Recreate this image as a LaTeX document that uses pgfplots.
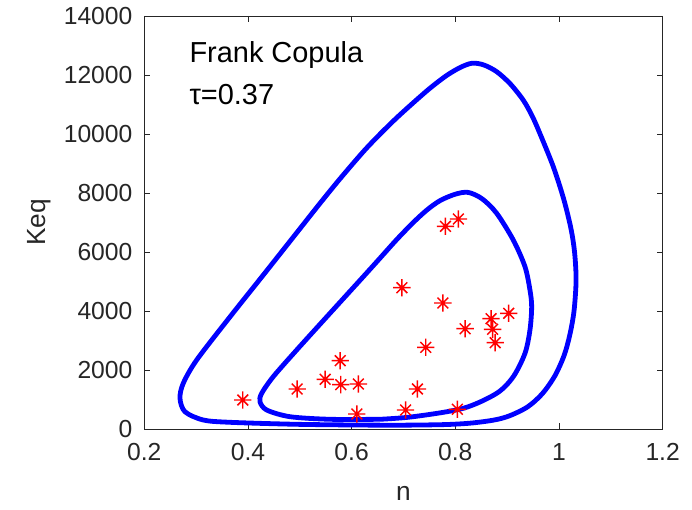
\documentclass[border=0pt]{standalone}
\usepackage{fontspec}
\setmainfont{Liberation Sans}
\usepackage{pgfplots}
\pgfplotsset{compat=1.18}
\definecolor{axgray}{RGB}{38,38,38}
\pgfdeclareplotmark{mstar}{%
  \pgfpathmoveto{\pgfqpoint{0pt}{\pgfplotmarksize}}%
  \pgfpathlineto{\pgfqpoint{0pt}{-\pgfplotmarksize}}%
  \pgfpathmoveto{\pgfqpoint{\pgfplotmarksize}{0pt}}%
  \pgfpathlineto{\pgfqpoint{-\pgfplotmarksize}{0pt}}%
  \pgfpathmoveto{\pgfqpoint{0.62\pgfplotmarksize}{0.62\pgfplotmarksize}}%
  \pgfpathlineto{\pgfqpoint{-0.62\pgfplotmarksize}{-0.62\pgfplotmarksize}}%
  \pgfpathmoveto{\pgfqpoint{0.62\pgfplotmarksize}{-0.62\pgfplotmarksize}}%
  \pgfpathlineto{\pgfqpoint{-0.62\pgfplotmarksize}{0.62\pgfplotmarksize}}%
  \pgfusepathqstroke}
\begin{document}
\begin{tikzpicture}
\path (-108.2pt,-60.75pt) rectangle (410.8pt,321.75pt);
\begin{axis}[
  scale only axis, width=388.8pt, height=309.75pt,
  at={(0pt,0pt)}, anchor=south west,
  xmin=0.2, xmax=1.2, ymin=0, ymax=14000,
  xtick={0.2,0.4,0.6,0.8,1,1.2},
  xticklabels={0.2,0.4,0.6,0.8,1,1.2},
  ytick={0,2000,4000,6000,8000,10000,12000,14000},
  yticklabels={0,2000,4000,6000,8000,10000,12000,14000},
  scaled y ticks=false,
  tick align=inside, major tick length=4.5pt,
  axis line style={axgray, line width=0.6pt},
  tick style={axgray, line width=0.6pt},
  ticklabel style={font=\fontsize{18.5}{22}\selectfont, text=axgray},
  xticklabel style={anchor=north, inner sep=0pt, yshift=-10.5pt},
  yticklabel style={anchor=east, inner sep=0pt, xshift=-8.7pt},
  xlabel={n}, ylabel={Keq},
  label style={font=\fontsize{19.7}{23}\selectfont, text=axgray},
  xlabel style={at={(axis description cs:0.5,-0.172)}, anchor=base, inner sep=0pt},
  ylabel style={at={(axis description cs:-0.1896,0.5)}, anchor=base, inner sep=0pt},
]
\addplot[blue, line width=3.6pt, smooth, tension=0.5, line join=round] coordinates {
(0.6225,133) (0.70,130) (0.78,150) (0.83,200) (0.875,305) (0.905,450) (0.940,756)
(0.968,1200) (0.992,1800) (1.010,2500) (1.021,3200) (1.029,4000) (1.033,5050)
(1.030,6000) (1.023,6800) (1.009,7800) (0.989,8892) (0.963,10024) (0.948,10620)
(0.931,11150) (0.906,11700) (0.880,12110) (0.855,12340) (0.8327,12400)
(0.810,12260) (0.783,11980) (0.751,11550) (0.719,11060) (0.687,10550)
(0.655,10000) (0.6225,9400) (0.5775,8480) (0.539,7650) (0.494,6650) (0.4296,5220)
(0.3653,3800) (0.3011,2339) (0.2752,1549) (0.2689,1041) (0.2785,586)
(0.3138,305) (0.3653,227) (0.4940,159) (0.6225,133)
};
\addplot[blue, line width=3.6pt, smooth, tension=0.5, line join=round] coordinates {
(0.6547,329) (0.7189,417) (0.8154,702) (0.8798,1210) (0.9118,1773) (0.9344,2566)
(0.9440,3356) (0.9473,4146) (0.9440,4712) (0.9344,5502) (0.9118,6407)
(0.8798,7312) (0.852,7800) (0.825,8020) (0.800,7960) (0.7704,7740) (0.745,7420)
(0.7189,7000) (0.6869,6420) (0.6547,5790) (0.6225,5163) (0.5582,3922)
(0.4940,2678) (0.4488,1773) (0.4265,1210) (0.4232,925) (0.4361,644)
(0.4811,417) (0.5582,329) (0.6547,329)
};
\addplot[only marks, red, mark=mstar, mark size=6.5pt, line width=1.1pt] coordinates {
(0.390,983) (0.495,1356) (0.549,1685) (0.578,2315) (0.579,1503) (0.613,1525)
(0.610,508) (0.697,4790) (0.704,644) (0.727,1356) (0.743,2769) (0.781,6871)
(0.806,7119) (0.776,4271) (0.819,3400) (0.804,667) (0.869,3740) (0.872,3380)
(0.877,2925) (0.903,3922)
};
\node[anchor=base west, inner sep=0pt, font=\fontsize{21.7}{26}\selectfont] at (axis cs:0.2868,12430) {Frank Copula};
\node[anchor=base west, inner sep=0pt, font=\fontsize{21.7}{26}\selectfont] at (axis cs:0.2868,10983) {τ=0.37};
\end{axis}
\end{tikzpicture}
\end{document}
